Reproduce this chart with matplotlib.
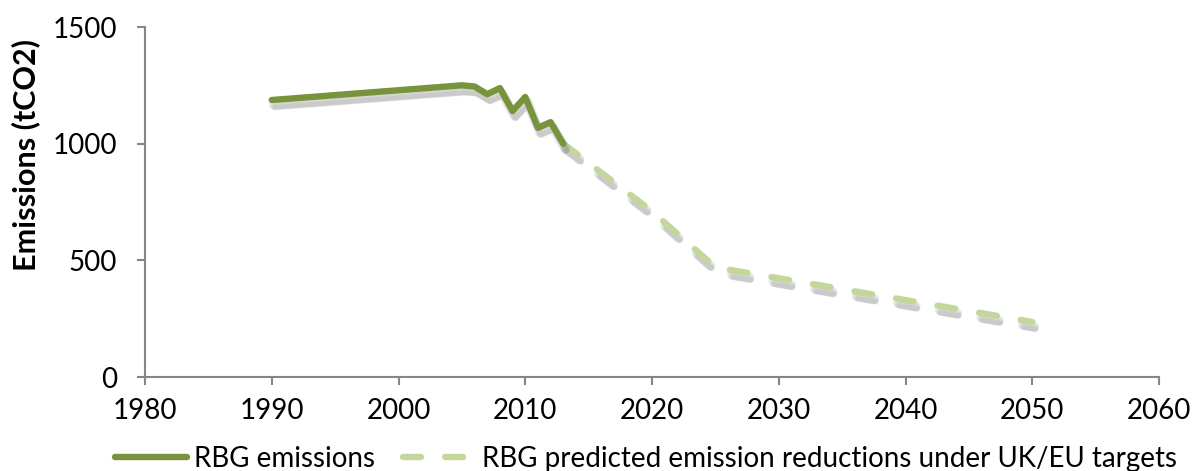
import matplotlib
matplotlib.use("Agg")
import matplotlib.pyplot as plt
import matplotlib.patheffects as pe

# Data
hist_years = [1990, 2005, 2006, 2007, 2008, 2009, 2010, 2011, 2012, 2013]
hist_values = [1187, 1250, 1245, 1212, 1238, 1140, 1200, 1068, 1092, 1000]
pred_years = [2013, 2020, 2025, 2050]
pred_values = [1000, 710, 470, 236]
x_ticks = [1980, 1990, 2000, 2010, 2020, 2030, 2040, 2050, 2060]
y_ticks = [0, 500, 1000, 1500]
series_labels = ["RBG emissions", "RBG predicted emission reductions under UK/EU targets"]

plt.rcParams['font.family'] = ['Lato', 'DejaVu Sans']

fig = plt.figure(figsize=(11.96, 4.71), dpi=100)
ax = fig.add_axes([145/1196, 1-377/471, (1159-145)/1196, (377-27)/471])

shadow = [pe.SimpleLineShadow(offset=(1.5, -3.5), shadow_color='#808080', alpha=0.18, linewidth=7),
          pe.SimpleLineShadow(offset=(2, -4.5), shadow_color='#808080', alpha=0.18, linewidth=5),
          pe.SimpleLineShadow(offset=(2.5, -5.5), shadow_color='#808080', alpha=0.12, linewidth=4),
          pe.Normal()]

ax.plot(hist_years, hist_values, color='#77933C', lw=4.6, solid_joinstyle='round',
        solid_capstyle='round', label=series_labels[0], path_effects=shadow, zorder=3)
ax.plot(pred_years, pred_values, color='#C3D69B', lw=4.6, dashes=(2.8, 3.8),
        dash_capstyle='round', dash_joinstyle='round', label=series_labels[1],
        path_effects=shadow, zorder=2)

ax.set_xlim(1980, 2060)
ax.set_ylim(0, 1500)
ax.set_xticks(x_ticks)
ax.set_yticks(y_ticks)
for s in ['top', 'right']:
    ax.spines[s].set_visible(False)
for s in ['left', 'bottom']:
    ax.spines[s].set_color('#868686')
    ax.spines[s].set_linewidth(1.5)
ax.tick_params(axis='both', direction='out', length=6, width=1.5, color='#868686',
               labelsize=20, labelcolor='black')
ax.tick_params(axis='x', pad=9)
ax.tick_params(axis='y', pad=14)
ax.set_ylabel("Emissions (tCO2)", fontsize=22, fontweight='bold')
ax.yaxis.set_label_coords(-0.103, 0.634)

leg = fig.legend(loc='lower center', bbox_to_anchor=(0.54, -0.055), ncol=2, frameon=False,
                 fontsize=20, handlelength=2.6, handletextpad=0.25, columnspacing=1.0)
for h in leg.get_lines():
    h.set_path_effects([pe.Normal()])

fig.savefig("out.png", dpi=100)
